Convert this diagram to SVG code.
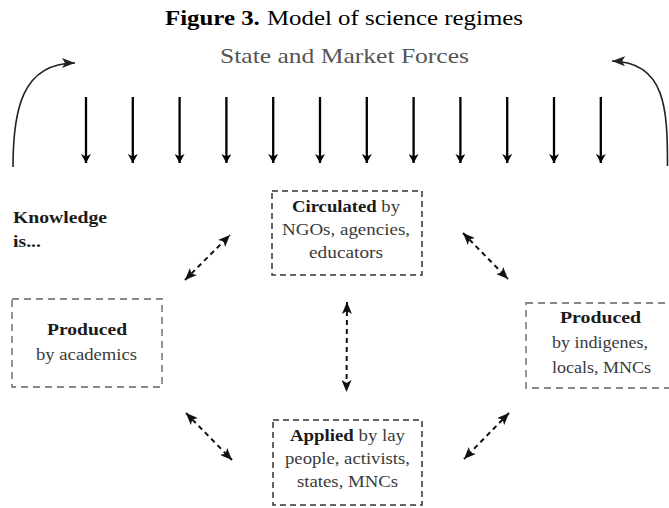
<svg xmlns="http://www.w3.org/2000/svg" width="669" height="508" viewBox="0 0 669 508">
<defs>
<style>
text{font-family:"Liberation Serif","Times New Roman",serif;}
.t{font-size:21px;fill:#000;}
.sm{font-size:21px;fill:#555;}
.b{font-size:16px;fill:#3a3a3a;}
.bb{font-weight:bold;fill:#1a1a1a;}
.boxg{fill:none;stroke:#888;stroke-width:1.8;stroke-dasharray:7 5;}
.boxd{fill:none;stroke:#333;stroke-width:1.5;stroke-dasharray:6 4;}
.down{stroke:#000;stroke-width:2.3;fill:none;marker-end:url(#ah);}
.curve{stroke:#222;stroke-width:1.6;fill:none;marker-end:url(#ch);}
.dbl{stroke:#111;stroke-width:2;stroke-dasharray:5 4;fill:none;marker-start:url(#dh);marker-end:url(#dh);}
</style>
<marker id="ah" markerUnits="userSpaceOnUse" viewBox="0 0 9 10" markerWidth="9" markerHeight="10" refX="9" refY="5" orient="auto"><path d="M0,0 L9,5 L0,10 L2.5,5 z" fill="#000"/></marker>
<marker id="ch" markerUnits="userSpaceOnUse" viewBox="0 0 13 10" markerWidth="13" markerHeight="10" refX="13" refY="5" orient="auto"><path d="M0,0 L13,5 L0,10 L3,5 z" fill="#222"/></marker>
<marker id="dh" markerUnits="userSpaceOnUse" viewBox="0 0 12 10" markerWidth="12" markerHeight="10" refX="12" refY="5" orient="auto-start-reverse"><path d="M0,0 L12,5 L0,10 L3,5 z" fill="#111"/></marker>
</defs>
<rect width="669" height="508" fill="#fff"/>
<text class="t" x="165" y="25" textLength="358" lengthAdjust="spacingAndGlyphs"><tspan font-weight="bold">Figure 3.</tspan><tspan dx="6">Model of science regimes</tspan></text>
<text class="sm" x="220" y="63" textLength="249" lengthAdjust="spacingAndGlyphs">State and Market Forces</text>
<g id="label-knowledge">
<text class="b bb" x="13" y="223" textLength="94" lengthAdjust="spacingAndGlyphs">Knowledge</text>
<text class="b bb" x="13" y="247" textLength="28" lengthAdjust="spacingAndGlyphs">is...</text>
</g>
<g id="node-produced-academics">
<rect class="boxg" x="12" y="299" width="150" height="88"/>
<text class="b bb" x="47" y="335" textLength="80" lengthAdjust="spacingAndGlyphs">Produced</text>
<text class="b" x="36" y="360" textLength="101" lengthAdjust="spacingAndGlyphs">by academics</text>
</g>
<g id="node-circulated">
<rect class="boxd" x="272" y="191" width="150" height="84"/>
<text class="b" x="292" y="212" textLength="108" lengthAdjust="spacingAndGlyphs"><tspan class="bb">Circulated</tspan> by</text>
<text class="b" x="282" y="235" textLength="128" lengthAdjust="spacingAndGlyphs">NGOs, agencies,</text>
<text class="b" x="309" y="258" textLength="74" lengthAdjust="spacingAndGlyphs">educators</text>
</g>
<g id="node-produced-indigenes">
<rect class="boxg" x="526" y="303" width="150" height="85"/>
<text class="b bb" x="560" y="323" textLength="81" lengthAdjust="spacingAndGlyphs">Produced</text>
<text class="b" x="552" y="348" textLength="96" lengthAdjust="spacingAndGlyphs">by indigenes,</text>
<text class="b" x="552" y="373" textLength="99" lengthAdjust="spacingAndGlyphs">locals, MNCs</text>
</g>
<g id="node-applied">
<rect class="boxd" x="273" y="420" width="149" height="85"/>
<text class="b" x="290" y="441" textLength="115" lengthAdjust="spacingAndGlyphs"><tspan class="bb">Applied</tspan> by lay</text>
<text class="b" x="285" y="464" textLength="125" lengthAdjust="spacingAndGlyphs">people, activists,</text>
<text class="b" x="297" y="487" textLength="101" lengthAdjust="spacingAndGlyphs">states, MNCs</text>
</g>
<g id="connectors">
<path class="curve" d="M13,167 C13,110 22,63 75,63"/>
<path class="curve" d="M667.5,166 C667.5,110 666,62 612,61"/>
<path class="down" d="M86,97 V163"/>
<path class="down" d="M132.8,97 V163"/>
<path class="down" d="M179.6,97 V163"/>
<path class="down" d="M226.4,97 V163"/>
<path class="down" d="M273.2,97 V163"/>
<path class="down" d="M320,97 V163"/>
<path class="down" d="M366.8,97 V163"/>
<path class="down" d="M413.6,97 V163"/>
<path class="down" d="M460.4,97 V163"/>
<path class="down" d="M507.2,97 V163"/>
<path class="down" d="M554,97 V163"/>
<path class="down" d="M600.8,97 V163"/>
<path class="dbl" d="M185,280 L230,235"/>
<path class="dbl" d="M463,233 L508,279"/>
<path class="dbl" d="M347,302 L346.5,392"/>
<path class="dbl" d="M186,413 L232,460"/>
<path class="dbl" d="M509,413 L464,459"/>
</g>
</svg>
